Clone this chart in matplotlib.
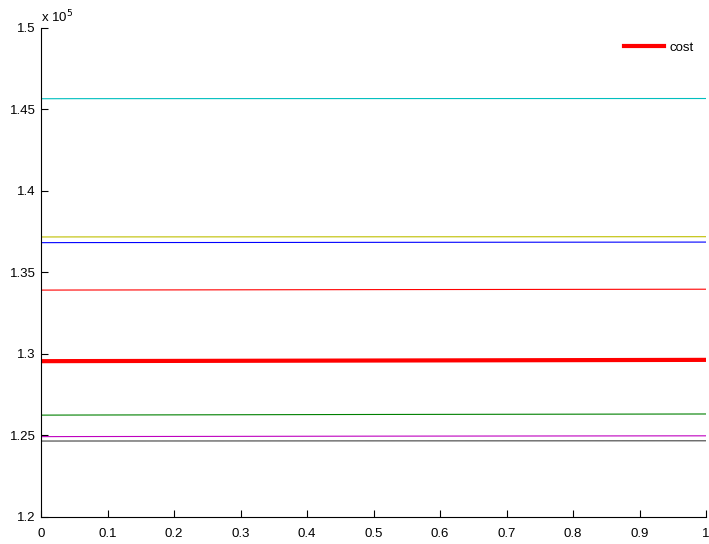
import matplotlib
matplotlib.use('Agg')
from matplotlib import pyplot as plt
from matplotlib.ticker import FuncFormatter
import numpy as np

plt.rcParams['font.family'] = ['Liberation Sans', 'DejaVu Sans']

xValues = [0.0, 0.05, 0.25, 0.5, 0.75, 1.0]
cyanValues = [145660, 145665, 145668, 145670, 145672, 145674]
oliveValues = [137180, 137183, 137186, 137190, 137193, 137196]
blueValues = [136830, 136835, 136840, 136850, 136858, 136866]
redValues = [133920, 133925, 133935, 133950, 133962, 133975]
costValues = [129560, 129565, 129580, 129600, 129620, 129640]
greenValues = [126250, 126255, 126270, 126290, 126305, 126320]
magentaValues = [124930, 124935, 124945, 124960, 124970, 124980]
greyValues = [124660, 124662, 124665, 124670, 124672, 124675]

thinLines = [
    (cyanValues, (0.0, 0.75, 0.75)),
    (oliveValues, (0.75, 0.75, 0.0)),
    (blueValues, (0.0, 0.0, 1.0)),
    (redValues, (1.0, 0.0, 0.0)),
    (greenValues, (0.0, 0.5, 0.0)),
    (magentaValues, (0.75, 0.0, 0.75)),
    (greyValues, (0.25, 0.25, 0.25)),
]

fig = plt.figure(figsize=(7.09, 5.44), dpi=100)
ax = fig.add_axes([41/709, 27/544, 665/709, 489/544])

for vals, col in thinLines:
    ax.plot(xValues, vals, color=col, linewidth=0.8)
ax.plot(xValues, costValues, color='red', linewidth=3, label='cost')

ax.set_xlim(0, 1)
ax.set_ylim(1.2e5, 1.5e5)
ax.set_xticks(np.arange(0, 1.01, 0.1))
ax.set_yticks(np.arange(1.2e5, 1.51e5, 0.05e5))
ax.xaxis.set_major_formatter(FuncFormatter(lambda v, p: f"{v:g}"))
ax.yaxis.set_major_formatter(FuncFormatter(lambda v, p: f"{v/1e5:g}"))

ax.spines['top'].set_visible(False)
ax.spines['right'].set_visible(False)
ax.tick_params(direction='in', length=5, labelsize=9.5, width=0.8)
ax.tick_params(axis='x', pad=8)
ax.tick_params(axis='y', pad=4)

ax.text(0.0, 1.006, r'x 10$^5$', transform=ax.transAxes, fontsize=9.5,
        ha='left', va='bottom')

ax.legend(loc='upper right', frameon=False, fontsize=9.5, handlelength=3.0,
          handletextpad=0.4, bbox_to_anchor=(0.999, 0.997))

fig.savefig('out.png', dpi=100)
